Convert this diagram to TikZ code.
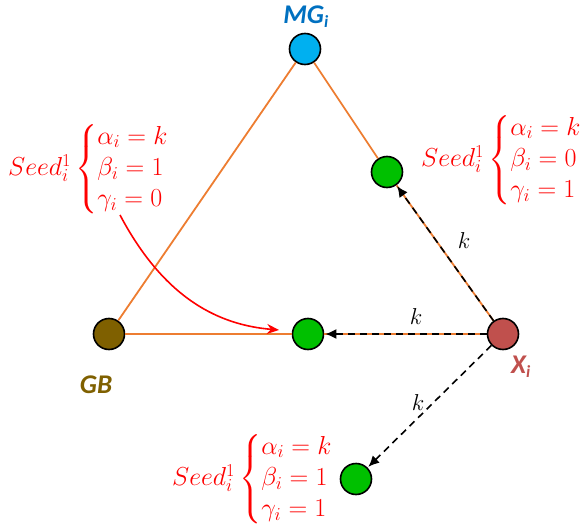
\RequirePackage{fix-cm}
\documentclass[tikz,border=0pt]{standalone}
\usepackage{amsmath}
\usepackage{fontspec}
\setsansfont{Carlito}
\usetikzlibrary{arrows.meta}
\definecolor{orng}{HTML}{ED7D31}
\definecolor{mgfill}{HTML}{00B0F0}
\definecolor{mgtext}{HTML}{0070C0}
\definecolor{grn}{HTML}{00C000}
\definecolor{gbfill}{HTML}{7F6000}
\definecolor{xfill}{HTML}{C0504D}
\begin{document}
\begin{tikzpicture}[x=1pt,y=-1pt,
  dot/.style={circle,draw=black,line width=1.6pt,minimum size=31pt,inner sep=0pt},
  tri/.style={orng,line width=1.8pt},
  dsh/.style={black,line width=1.6pt,dash pattern=on 7pt off 5pt,-{Latex[length=11pt,width=10pt]},shorten >=1pt},
  lbl/.style={font=\sffamily\bfseries\itshape\fontsize{27}{30}\selectfont},
  seed/.style={red,inner sep=0pt,anchor=west,font=\fontsize{26}{26}\selectfont},
  kl/.style={font=\fontsize{23}{26}\selectfont}]
\useasboundingbox (0,0) rectangle (582,525);
\node[dot,fill=mgfill] (mg) at (305,49) {};
\node[dot,fill=gbfill] (gb) at (109,334) {};
\node[dot,fill=xfill] (x) at (503,334) {};
\node[dot,fill=grn] (g2) at (308,334) {};
\node[dot,fill=grn] (g1) at (387,172) {};
\node[dot,fill=grn] (g3) at (356,479) {};
\draw[tri] (mg) -- (gb);
\draw[tri] (gb) -- (g2);
\draw[tri] (mg) -- (g1);
\draw[tri] (g1) -- (x);
\draw[tri] (g2) -- (x);
\draw[dsh] (x) -- (g1);
\draw[dsh] (x) -- (g2);
\draw[dsh] (x) -- (g3);
\node[lbl,text=mgtext] (mgl) at (306,17) {MG\textsubscript{\fontsize{17}{18}\selectfont i}};
\node[lbl,text=gbfill] (gbl) at (96,385) {GB};
\node[lbl,text=xfill] (xl) at (521,367) {X\textsubscript{\fontsize{17}{18}\selectfont i}};
\node[kl] (k1) at (464,241) {$k$};
\node[kl] (k2) at (416,317) {$k$};
\node[kl] (k3) at (418,403) {$k$};
\node[seed] (s1) at (8,169) {$Seed_i^1\begin{cases}\alpha_i = k\\ \beta_i = 1\\ \gamma_i = 0\end{cases}$};
\node[seed] (s2) at (421,160) {$Seed_i^1\begin{cases}\alpha_i = k\\ \beta_i = 0\\ \gamma_i = 1\end{cases}$};
\node[seed] (s3) at (172,479) {$Seed_i^1\begin{cases}\alpha_i = k\\ \beta_i = 1\\ \gamma_i = 1\end{cases}$};
\coordinate (as) at (120,215);
\coordinate (ae) at (279,330);
\draw[red,line width=1.6pt,-{Stealth[length=12pt,width=10pt]}] (as) .. controls (165,300) and (220,325) .. (ae);
\end{tikzpicture}
\end{document}
